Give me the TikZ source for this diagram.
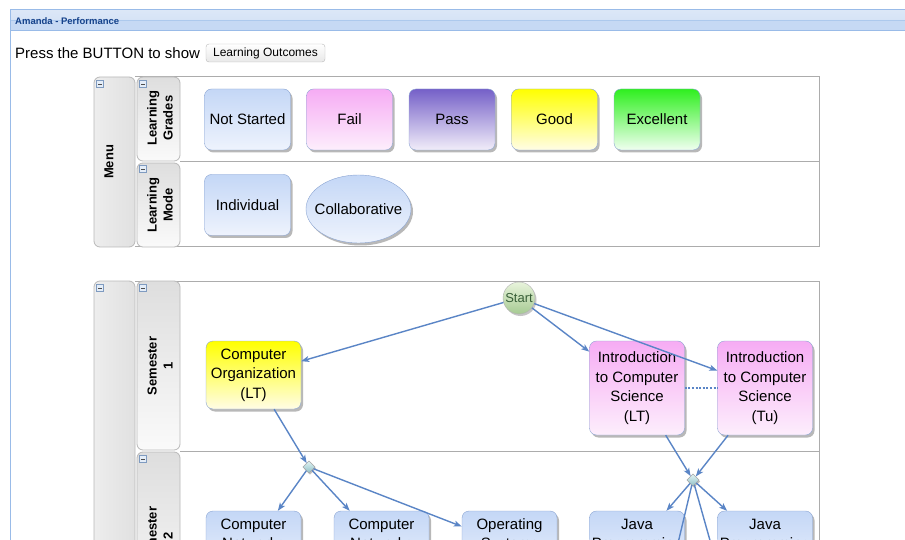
\documentclass[tikz,border=0pt]{standalone}
\usepackage{fontspec}
\setmainfont{Liberation Sans}
\usetikzlibrary{arrows.meta,shadows,shapes.geometric}

\definecolor{flowblue}{HTML}{5A85C6}
\definecolor{boxline}{HTML}{8AA4D2}
\definecolor{barblue}{HTML}{99BBE8}
\definecolor{bartop}{HTML}{DCE7F7}
\definecolor{barbot}{HTML}{C6D9F4}
\definecolor{titleblue}{HTML}{15428B}
\definecolor{lightblue}{HTML}{C4D7F6}
\definecolor{paleblue}{HTML}{EEF3FD}
\definecolor{pinktop}{HTML}{F6ACF4}
\definecolor{pinkbot}{HTML}{FDEEFC}
\definecolor{purpletop}{HTML}{7560C8}
\definecolor{purplebot}{HTML}{F1EDF9}
\definecolor{yellowtop}{HTML}{FFFF00}
\definecolor{yellowbot}{HTML}{FFFDE6}
\definecolor{greentop}{HTML}{2FEF1F}
\definecolor{greenbot}{HTML}{F0FFF0}
\definecolor{starttop}{HTML}{E8F4DC}
\definecolor{startbot}{HTML}{A6CA92}
\definecolor{gatetop}{HTML}{E2F4F4}
\definecolor{gatebot}{HTML}{8FBFC6}
\definecolor{toggleline}{HTML}{7F9BC0}
\definecolor{togglefill}{HTML}{E4EDF8}

\begin{document}
\begin{tikzpicture}[x=1pt, y=-1pt,
    >={Stealth[length=8pt, width=6pt, inset=2pt]},
    task/.style = {
      draw = boxline,
      rounded corners = 7pt,
      minimum width = 86pt,
      minimum height = 61pt,
      inner sep = 2pt,
      align = center,
      font = \fontsize{15}{19.5}\selectfont,
      drop shadow = {shadow xshift=2pt, shadow yshift=-2.5pt, fill=black!55}
    },
    course/.style = {task, minimum width = 95pt, minimum height = 68pt},
    oval/.style = {
      draw = boxline,
      ellipse,
      minimum width = 105pt,
      minimum height = 68pt,
      inner xsep = -8pt,
      inner ysep = 0pt,
      font = \fontsize{15}{19.5}\selectfont,
      drop shadow = {shadow xshift=2pt, shadow yshift=-2.5pt, fill=black!55}
    },
    notstartedfill/.style = {top color=lightblue, bottom color=paleblue},
    failfill/.style = {top color=pinktop, bottom color=pinkbot},
    passfill/.style = {top color=purpletop, bottom color=purplebot},
    goodfill/.style = {top color=yellowtop, bottom color=yellowbot},
    excellentfill/.style = {top color=greentop, bottom color=greenbot},
    startnode/.style = {
      draw = gray!60,
      circle,
      minimum size = 32pt,
      inner sep = 0pt,
      top color = starttop,
      bottom color = startbot,
      text = gray!75!green!60!black,
      font = \fontsize{13}{13}\selectfont,
      drop shadow = {shadow xshift=1.5pt, shadow yshift=-2pt, fill=black!45}
    },
    gate/.style = {
      draw = gray!70,
      rectangle,
      rotate = 45,
      minimum size = 8.5pt,
      inner sep = 0pt,
      top color = gatetop,
      bottom color = gatebot,
      drop shadow = {shadow xshift=1pt, shadow yshift=-1.5pt, fill=black!50}
    },
    flow/.style = {->, draw=flowblue, line width=1.4pt},
    pool/.style = {draw=gray!65, line width=1pt},
    poolhead/.style = {draw=gray!55, line width=.8pt, rounded corners=6pt, left color=gray!14, right color=gray!24},
    lanehead/.style = {draw=gray!55, line width=.8pt, rounded corners=6pt, top color=gray!26, bottom color=gray!4},
    lanelabel/.style = {rotate=90, align=center, inner sep=0pt, font=\bfseries\fontsize{13}{16}\selectfont},
    toggle/.style = {
      draw = toggleline,
      fill = togglefill,
      minimum size = 7pt,
      inner sep = 0pt,
      path picture = {\draw[gray!60!black, line width=.6pt]
        ([xshift=1.6pt]path picture bounding box.west) -- ([xshift=-1.6pt]path picture bounding box.east);}
    },
    button/.style = {
      draw = gray!55,
      rounded corners = 3pt,
      minimum width = 119pt,
      minimum height = 18pt,
      inner sep = 0pt,
      top color = white,
      bottom color = gray!18,
      font = \fontsize{12}{12}\selectfont
    }
  ]
  \useasboundingbox (0,0) rectangle (905,540);
  \clip (0,0) rectangle (905,540);
  \fill[white] (0,0) rectangle (905,540);

  % window bar
  \path[top color=bartop, bottom color=bartop!70!barbot] (10,10) rectangle (905,20.5);
  \path[fill=barbot] (10,20.5) rectangle (905,31);
  \draw[barblue!80] (10,20.5) -- (905,20.5);
  \draw[barblue, line width=1pt] (10,10) -- (905,10);
  \draw[barblue, line width=1pt] (10,31) -- (905,31);
  \draw[barblue, line width=1pt] (10,10) -- (10,540);
  \node[anchor=west, inner sep=0pt, text=titleblue, font=\bfseries\fontsize{9.5}{11}\selectfont] (title) at (15,21) {Amanda - Performance};

  \node[anchor=west, inner sep=0pt, font=\fontsize{15}{15}\selectfont] (press) at (15,53) {Press the BUTTON to show};
  \node[button] (outcomes) at (265.5,53) {Learning Outcomes};

  % menu pool
  \draw[pool] (135,77) -- (819,77) -- (819,247) -- (135,247);
  \draw[pool] (180,162) -- (819,162);
  \draw[poolhead] (94,77) rectangle (135,247);
  \draw[lanehead] (137,77) rectangle (180,161);
  \draw[lanehead] (137,163) rectangle (180,247);

  \node[lanelabel] (menulabel) at (109,162) {Menu};
  \node[lanelabel] (gradeslabel) at (160,118) {Learning\\Grades};
  \node[lanelabel] (modelabel) at (160,205) {Learning\\Mode};

  \node[toggle] (menutoggle) at (100,84) {};
  \node[toggle] (gradestoggle) at (143,84) {};
  \node[toggle] (modetoggle) at (143,169) {};

  \node[task, notstartedfill] (notstarted) at (247.5,119.5) {Not Started};
  \node[task, failfill] (fail) at (349.5,119.5) {Fail};
  \node[task, passfill] (pass) at (452,119.5) {Pass};
  \node[task, goodfill] (good) at (554.5,119.5) {Good};
  \node[task, excellentfill] (excellent) at (657,119.5) {Excellent};

  \node[task, notstartedfill] (individual) at (247.5,205) {Individual};
  \node[oval, notstartedfill] (collaborative) at (358.5,209) {Collaborative};

  % semester pool
  \draw[pool] (135,281) -- (819,281) -- (819,560);
  \draw[pool] (180,451) -- (819,451);
  \draw[poolhead] (94,281) rectangle (135,640);
  \draw[lanehead] (137,281) rectangle (180,450);
  \draw[lanehead] (137,452) rectangle (180,620);

  \node[lanelabel] (sem1label) at (160,366) {Semester\\1};
  \node[lanelabel] (sem2label) at (160,536) {Semester\\2};

  \node[toggle] (semtoggle) at (100,288) {};
  \node[toggle] (sem1toggle) at (143,288) {};
  \node[toggle] (sem2toggle) at (143,459) {};

  \node[startnode] (start) at (519,298) {Start};

  \node[course, goodfill] (comporg) at (253.5,375) {Computer\\Organization\\(LT)};
  \node[course, failfill, minimum height=94pt] (introlt) at (637,388) {Introduction\\to Computer\\Science\\(LT)};
  \node[course, failfill, minimum height=94pt] (introtu) at (765,388) {Introduction\\to Computer\\Science\\(Tu)};

  \node[gate] (gate1) at (309,467) {};
  \node[gate] (gate2) at (693,480) {};

  \node[course, notstartedfill] (netlt) at (253.5,545) {Computer\\Networks\\(LT)};
  \node[course, notstartedfill] (nettu) at (381.5,545) {Computer\\Networks\\(Tu)};
  \node[course, notstartedfill] (oslt) at (509.5,545) {Operating\\Systems\\(LT)};
  \node[course, notstartedfill] (javalt) at (637,545) {Java\\Programming\\(LT)};
  \node[course, notstartedfill] (javatu) at (765,545) {Java\\Programming\\(Tu)};

  \coordinate (below1) at (655,640);
  \coordinate (below2) at (738,640);

  % connectors
  \draw[flow] (start) -- (comporg);
  \draw[flow] (start) -- (introlt);
  \draw[flow] (start) -- (introtu);
  \draw[flow, -, dash pattern=on 2pt off 1.6pt, line width=1.8pt] (introlt) -- (introtu);

  \draw[flow] (comporg) -- (gate1);
  \draw[flow] (gate1) -- (netlt);
  \draw[flow] (gate1) -- (nettu);
  \draw[flow] (gate1) -- (oslt);

  \draw[flow] (introlt) -- (gate2);
  \draw[flow] (introtu) -- (gate2);
  \draw[flow] (gate2) -- (javalt);
  \draw[flow] (gate2) -- (javatu);
  \draw[flow] (gate2) -- (below1);
  \draw[flow] (gate2) -- (below2);
\end{tikzpicture}
\end{document}
